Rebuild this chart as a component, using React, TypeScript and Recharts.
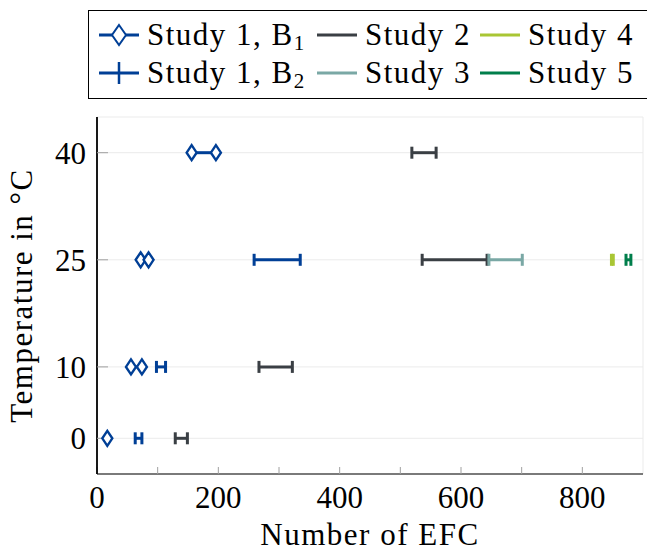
import React from 'react';
import { ScatterChart, Scatter, XAxis, YAxis, CartesianGrid } from 'recharts';

// ---------- data ----------
const temperatureTicks = [0, 10, 25, 40];
const xMinorTicks = [0, 100, 200, 300, 400, 500, 600, 700, 800];
const xGridTicks = [200, 400, 600, 800];
const xDomain = [0, 900];
const yDomain = [-5, 45];

// each entry: temperature, lower and upper number of EFC
const study1B1 = [
  { t: 0, lo: 17, hi: 17 },
  { t: 10, lo: 56, hi: 74 },
  { t: 25, lo: 72, hi: 85 },
  { t: 40, lo: 156, hi: 196 },
];
const study1B2 = [
  { t: 0, lo: 63, hi: 74 },
  { t: 10, lo: 98, hi: 113 },
  { t: 25, lo: 259, hi: 335 },
];
const study2 = [
  { t: 0, lo: 129, hi: 149 },
  { t: 10, lo: 267, hi: 322 },
  { t: 25, lo: 536, hi: 643 },
  { t: 40, lo: 519, hi: 559 },
];
const study3 = [{ t: 25, lo: 646, hi: 701 }];
const study4 = [{ t: 25, lo: 848, hi: 851 }];
const study5 = [{ t: 25, lo: 872, hi: 880 }];

const seriesNames = ['Study 1, B', 'Study 1, B', 'Study 2', 'Study 3', 'Study 4', 'Study 5'];
const seriesSubs = ['1', '2', '', '', '', ''];
const seriesColors = ['#003f96', '#003f96', '#3a3f44', '#7aa8a5', '#a9c634', '#007e4b'];
const seriesMarks = ['diamond', 'cap', 'cap', 'cap', 'cap', 'cap'];
const seriesData = [study1B1, study1B2, study2, study3, study4, study5];

const FONT = 'Liberation Serif, DejaVu Serif, serif';
const FS = 31;
const LS = 1.5;
const textStyle = { fontFamily: FONT };

// ---------- shapes ----------
const makeDiamond = (color: string, w = 5, h = 7.5) => (props: any) => {
  const { cx, cy } = props;
  if (cx == null || cy == null) return <g />;
  return (
    <polygon
      points={`${cx},${cy - h} ${cx + w},${cy} ${cx},${cy + h} ${cx - w},${cy}`}
      fill="#ffffff"
      stroke={color}
      strokeWidth={2.4}
    />
  );
};

const makeCap = (color: string) => (props: any) => {
  const { cx, cy } = props;
  if (cx == null || cy == null) return <g />;
  return <rect x={cx - 1.5} y={cy - 6} width={3} height={12} fill={color} />;
};

// ---------- ticks ----------
const XTick = (props: any) => {
  const { x, y, payload } = props;
  if (payload.value % 200 !== 0) return <g />;
  return (
    <text x={x} y={y} dy={41} textAnchor="middle" style={textStyle} fontSize={FS} fill="#000">
      {payload.value}
    </text>
  );
};

const YTick = (props: any) => {
  const { x, y, payload } = props;
  return (
    <text x={x} y={y} dx={-22} dy={11} textAnchor="end" style={textStyle} fontSize={FS} fill="#000">
      {payload.value}
    </text>
  );
};

const EmptyTick = () => <g />;

const YLabel = (props: any) => {
  const { viewBox } = props;
  const cx = 32;
  const cy = viewBox.y + viewBox.height / 2;
  return (
    <text
      x={cx}
      y={cy}
      transform={`rotate(-90, ${cx}, ${cy})`}
      textAnchor="middle"
      style={textStyle}
      fontSize={FS}
      letterSpacing={LS}
      fill="#000"
    >
      Temperature in °C
    </text>
  );
};

const XLabel = (props: any) => {
  const { viewBox } = props;
  const cx = viewBox.x + viewBox.width / 2;
  return (
    <text x={cx} y={545} textAnchor="middle" style={textStyle} fontSize={FS} letterSpacing={LS} fill="#000">
      Number of EFC
    </text>
  );
};

// ---------- legend ----------
const legendCols = [99, 317, 480];
const legendRows = [35, 73];

const LegendBox = () => {
  const order = [0, 2, 4, 1, 3, 5];
  return (
    <svg width={647} height={110} style={{ position: 'absolute', left: 0, top: 0 }}>
      <rect x={88.5} y={10.5} width={620} height={88} fill="#fff" stroke="#000" strokeWidth={1} />
      {order.map((si, k) => {
        const col = k % 3;
        const row = Math.floor(k / 3);
        const x0 = legendCols[col];
        const y0 = legendRows[row];
        const color = seriesColors[si];
        const mark = si === 0 ? 'diamond' : si === 1 ? 'plus' : 'none';
        return (
          <g key={k}>
            <line x1={x0} x2={x0 + 40} y1={y0} y2={y0} stroke={color} strokeWidth={3} />
            {mark === 'diamond' && (
              <polygon
                points={`${x0 + 20},${y0 - 10} ${x0 + 27},${y0} ${x0 + 20},${y0 + 10} ${x0 + 13},${y0}`}
                fill="#fff"
                stroke={color}
                strokeWidth={2}
              />
            )}
            {mark === 'plus' && (
              <line x1={x0 + 20} x2={x0 + 20} y1={y0 - 11} y2={y0 + 11} stroke={color} strokeWidth={2.5} />
            )}
            <text x={x0 + 48} y={y0 + 10} style={textStyle} fontSize={FS} letterSpacing={LS} fill="#000">
              {seriesNames[si]}
              {seriesSubs[si] && (
                <tspan fontSize={21} dy={5}>
                  {seriesSubs[si]}
                </tspan>
              )}
            </text>
          </g>
        );
      })}
    </svg>
  );
};

export default function App() {
  return (
    <div style={{ position: 'absolute', left: 0, top: 0, width: 647, height: 552, background: '#fff', fontFamily: FONT }}>
      <ScatterChart
        width={647}
        height={552}
        margin={{ top: 117, right: 4, bottom: 0, left: 0 }}
        style={{ position: 'absolute', left: 0, top: 0, fontFamily: FONT }}
      >
        <CartesianGrid xAxisId="top" yAxisId="left" stroke="#ebebeb" strokeWidth={1} />
        <XAxis
          xAxisId="bottom"
          type="number"
          dataKey="x"
          domain={xDomain}
          ticks={xMinorTicks}
          orientation="bottom"
          height={78}
          tickSize={-7}
          tickMargin={0}
          tickLine={{ stroke: '#a0a0a0' }}
          axisLine={{ stroke: '#000', strokeWidth: 1.2 }}
          tick={<XTick />}
          allowDataOverflow
          interval={0}
          label={<XLabel />}
        />
        <XAxis
          xAxisId="top"
          type="number"
          domain={xDomain}
          ticks={xGridTicks}
          orientation="top"
          height={0}
          tickLine={false}
          tick={<EmptyTick />}
          axisLine={{ stroke: '#000', strokeWidth: 1 }}
          allowDataOverflow
        />
        <YAxis
          yAxisId="left"
          type="number"
          dataKey="y"
          domain={yDomain}
          ticks={temperatureTicks}
          orientation="left"
          width={97}
          tickSize={-11}
          tickMargin={0}
          tickLine={{ stroke: '#a0a0a0' }}
          axisLine={{ stroke: '#000', strokeWidth: 1.8 }}
          tick={<YTick />}
          interval={0}
          allowDataOverflow
          label={<YLabel />}
        />
        <YAxis
          yAxisId="right"
          type="number"
          domain={yDomain}
          ticks={temperatureTicks}
          orientation="right"
          width={0}
          tickSize={-11}
          tickMargin={0}
          tickLine={{ stroke: '#a0a0a0' }}
          axisLine={{ stroke: '#000', strokeWidth: 1.2 }}
          tick={<EmptyTick />}
          interval={0}
          allowDataOverflow
        />
        {seriesData.map((rows, si) =>
          rows.map((r, ri) => {
            const pts = r.lo === r.hi ? [{ x: r.lo, y: r.t }] : [{ x: r.lo, y: r.t }, { x: r.hi, y: r.t }];
            const color = seriesColors[si];
            const shape = seriesMarks[si] === 'diamond' ? makeDiamond(color) : makeCap(color);
            return (
              <Scatter
                key={`${si}-${ri}`}
                xAxisId="bottom"
                yAxisId="left"
                data={pts}
                fill={color}
                stroke={color}
                line={{ stroke: color, strokeWidth: 3 }}
                shape={shape}
                isAnimationActive={false}
              />
            );
          })
        )}
      </ScatterChart>
      <LegendBox />
    </div>
  );
}
